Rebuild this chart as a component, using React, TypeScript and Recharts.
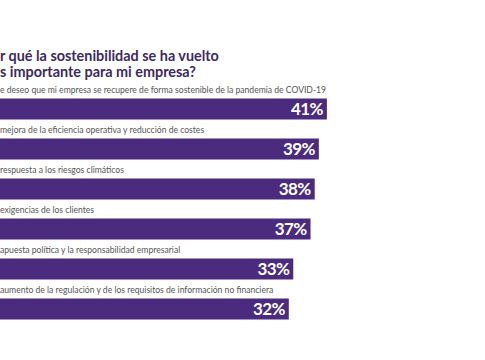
import React from "react";
import { BarChart, Bar, XAxis, YAxis, LabelList } from "recharts";

const categories = [
  "e deseo que mi empresa se recupere de forma sostenible de la pandemia de COVID-19",
  "mejora de la eficiencia operativa y reducción de costes",
  "respuesta a los riesgos climáticos",
  "exigencias de los clientes",
  "apuesta política y la responsabilidad empresarial",
  "aumento de la regulación y de los requisitos de información no financiera",
];
const values = [41, 39, 38, 37, 33, 32];
const titleLines = ["r qué la sostenibilidad se ha vuelto", "s importante para mi empresa?"];

const data = categories.map((name, i) => ({ name, value: values[i] }));

const BAR = "#4a2b7d";
const TITLE = "#3d2a5f";

const CategoryLabel = (props: any) => {
  const { x, y, value } = props;
  return (
    <text
      x={x}
      y={y - 6}
      fill="#555"
      fontSize={8.6}
      fontFamily="Lato, 'Liberation Sans', sans-serif"
    >
      {value}
    </text>
  );
};

export default function App() {
  return (
    <div style={{ position: "absolute", left: 0, top: 0, width: 485, height: 360, background: "#fff" }}>
      <svg width={485} height={360} style={{ position: "absolute", left: 0, top: 0 }}>
        {titleLines.map((t, i) => (
          <text
            key={i}
            x={0}
            y={61 + i * 16}
            fill={TITLE}
            fontSize={14.4}
            fontWeight={700}
            fontFamily="Lato, 'Open Sans', sans-serif"
          >
            {t}
          </text>
        ))}
      </svg>
      <div style={{ position: "absolute", left: 0, top: 0 }}>
        <BarChart
          width={485}
          height={360}
          data={data}
          layout="vertical"
          margin={{ top: 88.5, right: 124, bottom: 31.5, left: 0 }}
        >
          <XAxis type="number" hide scale="sqrt" domain={[0, 50]} />
          <YAxis type="category" dataKey="name" hide />
          <Bar dataKey="value" fill={BAR} barSize={21} isAnimationActive={false}>
            <LabelList dataKey="name" content={<CategoryLabel />} />
            <LabelList
              dataKey="value"
              position="insideRight"
              offset={4}
              formatter={(v: any) => `${v}%`}
              fill="#fff"
              fontSize={17}
              fontWeight={700}
              letterSpacing={-0.6}
              fontFamily="Lato, 'Open Sans', sans-serif"
            />
          </Bar>
        </BarChart>
      </div>
    </div>
  );
}
